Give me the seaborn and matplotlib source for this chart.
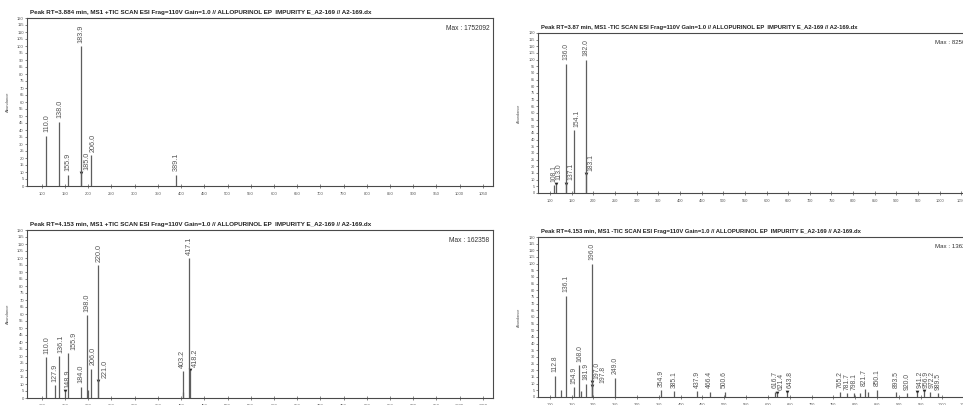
import matplotlib
matplotlib.use("Agg")
import matplotlib.pyplot as plt
import seaborn as sns
import pandas as pd

sns.set_theme(style="white")
plt.rcParams['font.family'] = ['Liberation Sans', 'DejaVu Sans']

# ---- spectrum 1: RT 3.884 min, positive mode ----
s1_mz = [110.0, 138.0, 155.9, 183.9, 185.0, 206.0, 389.1]
s1_abund = [36, 46, 8, 100, 9, 22, 8]
s1_flag = [185.0]
s1_minor_mz = []
s1_minor_abund = []

# ---- spectrum 2: RT 3.87 min, negative mode ----
s2_mz = [108.1, 113.0, 136.0, 137.1, 154.1, 182.0, 183.1]
s2_abund = [6, 7, 97, 7, 47, 100, 14]
s2_flag = [113.0, 137.1, 183.1]
s2_minor_mz = []
s2_minor_abund = []

# ---- spectrum 3: RT 4.153 min, positive mode ----
s3_mz = [110.0, 127.9, 136.1, 148.9, 155.9, 184.0, 198.0, 206.0, 220.0,
         221.0, 403.2, 417.1, 418.2]
s3_abund = [29, 9, 30, 5, 32, 8, 59, 21, 95, 12, 19, 100, 20]
s3_flag = [148.9, 221.0, 418.2]
s3_minor_mz = [200.0, 405.0]
s3_minor_abund = [6, 4]

# ---- spectrum 4: RT 4.153 min, negative mode ----
s4_mz = [112.8, 136.1, 154.9, 168.0, 181.9, 196.0, 197.0, 197.8, 249.0,
         354.9, 385.1, 437.9, 466.4, 500.6, 616.7, 621.4, 643.8, 765.2,
         781.7, 798.1, 821.7, 850.1, 893.5, 920.0, 941.2, 956.9, 972.2, 989.5]
s4_abund = [16, 76, 7.5, 24, 10, 100, 11, 8, 14.5,
            5, 4.5, 4.5, 4, 4, 4, 3, 4, 4,
            3, 3, 6, 5.5, 4, 3, 4, 4.5, 4, 3]
s4_flag = [197.0, 197.8, 621.4, 643.8, 941.2, 956.9]
s4_minor_mz = [125.0, 172.0, 811.0, 829.0]
s4_minor_abund = [5, 4.5, 3, 4]

titles = [
    "Peak RT=3.884 min, MS1 +TIC SCAN ESI Frag=110V Gain=1.0 // ALLOPURINOL EP  IMPURITY E_A2-169 // A2-169.dx",
    "Peak RT=3.87 min, MS1 -TIC SCAN ESI Frag=110V Gain=1.0 // ALLOPURINOL EP  IMPURITY E_A2-169 // A2-169.dx",
    "Peak RT=4.153 min, MS1 +TIC SCAN ESI Frag=110V Gain=1.0 // ALLOPURINOL EP  IMPURITY E_A2-169 // A2-169.dx",
    "Peak RT=4.153 min, MS1 -TIC SCAN ESI Frag=110V Gain=1.0 // ALLOPURINOL EP  IMPURITY E_A2-169 // A2-169.dx",
]
max_counts = ["1752092", "825064", "162358", "136248"]

x_ticks = list(range(100, 1101, 50))
y_ticks = list(range(0, 121, 5))

W, H = 963, 405
DPI = 100
fig = plt.figure(figsize=(W / DPI, H / DPI), dpi=DPI)

# axes boxes in pixels (left, top, right, bottom), m/z range and text scale of each panel
boxes = [
    (27, 18, 493, 186),
    (538, 33, 983, 193),
    (27, 230, 493, 398),
    (538, 237, 986, 397),
]
x_ranges = [(68, 1072), (72, 1100), (68, 1072), (73, 1100)]
text_scale = [1.0, 0.93, 1.0, 0.93]
max_left_px = [None, 935, None, 935]

spectra = [
    (s1_mz, s1_abund, s1_flag, s1_minor_mz, s1_minor_abund),
    (s2_mz, s2_abund, s2_flag, s2_minor_mz, s2_minor_abund),
    (s3_mz, s3_abund, s3_flag, s3_minor_mz, s3_minor_abund),
    (s4_mz, s4_abund, s4_flag, s4_minor_mz, s4_minor_abund),
]

stem_color = "#5e5e5e"
frame_color = "#4a4a4a"
text_color = "#555555"
label_gap_px = 6.0

for (l, t, r, b), (x0, x1), k, mlx, (mz, ab, flag, mmz, mab), title, mx in zip(
        boxes, x_ranges, text_scale, max_left_px, spectra, titles, max_counts):
    ax = fig.add_axes([l / W, 1 - b / H, (r - l) / W, (b - t) / H])
    ax.set_xlim(x0, x1)
    ax.set_ylim(0, 120)

    df = pd.DataFrame({"mz": mz, "abundance": ab})
    ax.vlines(df["mz"], 0, df["abundance"], color=stem_color, lw=0.9)
    if mmz:
        ax.vlines(mmz, 0, mab, color=stem_color, lw=0.9)
    flagged = df[df["mz"].isin(flag)]
    if len(flagged):
        sns.scatterplot(data=flagged, x="mz", y="abundance", marker="v", s=7,
                        color="#222222", linewidth=0, ax=ax, legend=False)

    # spread crowded peak labels to the right so they do not collide
    px_per_unit = (r - l) / (x1 - x0)
    prev_px = -1e9
    for m, a in sorted(zip(mz, ab)):
        line_px = (m - x0) * px_per_unit
        lab_px = line_px + (3.0 if m in flag else 0.0)
        lab_px = max(lab_px, prev_px + label_gap_px * k)
        prev_px = lab_px
        dx_pt = (lab_px - line_px) * 72 / DPI
        ax.annotate(f"{m:.1f}", xy=(m, a), xytext=(dx_pt, 2.5), textcoords="offset points",
                    rotation=90, ha="center", va="bottom", fontsize=5.2 * k, color=text_color)

    ax.set_xticks([v for v in x_ticks if x0 <= v <= x1])
    ax.set_yticks(y_ticks)
    ax.tick_params(axis="x", direction="inout", length=3, width=0.5, labelsize=3 * k,
                   colors=text_color, pad=2.5, bottom=True)
    ax.tick_params(axis="y", direction="out", length=1.5, width=0.5, labelsize=3 * k,
                   colors=text_color, pad=0.8, left=True)
    ax.set_xlabel("")
    ax.set_ylabel("Abundance", fontsize=3 * k, color=text_color, labelpad=5)
    for sp in ax.spines.values():
        sp.set_visible(True)
        sp.set_color(frame_color)
        sp.set_linewidth(0.8)

    if mlx is None:
        ax.annotate(f"Max : {mx}", xy=(1, 1), xycoords="axes fraction", xytext=(-2.5, -5),
                    textcoords="offset points", ha="right", va="top", fontsize=4.8 * k,
                    color="#333333")
    else:
        ax.annotate(f"Max : {mx}", xy=(1, 1), xycoords="axes fraction",
                    xytext=((mlx - r) * 72 / DPI, -5), textcoords="offset points",
                    ha="left", va="top", fontsize=4.8 * k, color="#333333")
    ax.annotate(title, xy=(0, 1), xycoords="axes fraction", xytext=(2.5, 2.5),
                textcoords="offset points", ha="left", va="bottom", fontsize=4.55 * k * 0.99,
                fontweight="bold", color="#222222")

fig.savefig("out.png", dpi=DPI, facecolor="white")
